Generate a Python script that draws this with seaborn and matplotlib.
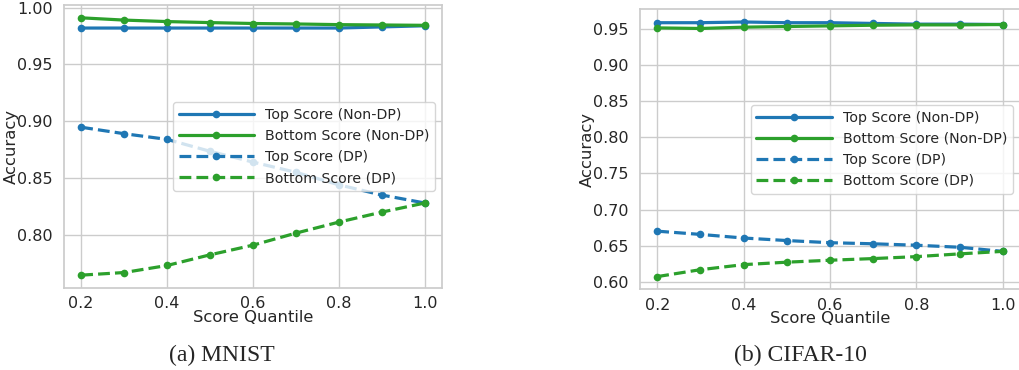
import matplotlib
matplotlib.use("Agg")
import matplotlib.pyplot as plt
import seaborn as sns

quantiles = [0.2, 0.3, 0.4, 0.5, 0.6, 0.7, 0.8, 0.9, 1.0]

# MNIST
mnist_top_nondp = [0.982, 0.982, 0.982, 0.982, 0.982, 0.982, 0.982, 0.983, 0.984]
mnist_bottom_nondp = [0.991, 0.989, 0.9877, 0.9868, 0.986, 0.9856, 0.985, 0.9847, 0.9844]
mnist_top_dp = [0.8947, 0.889, 0.884, 0.8735, 0.864, 0.855, 0.844, 0.835, 0.828]
mnist_bottom_dp = [0.7645, 0.7668, 0.773, 0.7824, 0.7909, 0.8015, 0.8112, 0.82, 0.828]

# CIFAR-10
cifar_top_nondp = [0.959, 0.959, 0.960, 0.959, 0.959, 0.958, 0.957, 0.957, 0.9565]
cifar_bottom_nondp = [0.9518, 0.951, 0.9528, 0.9537, 0.9546, 0.9555, 0.956, 0.956, 0.9565]
cifar_top_dp = [0.670, 0.6655, 0.6605, 0.657, 0.654, 0.6525, 0.6505, 0.6477, 0.642]
cifar_bottom_dp = [0.607, 0.6166, 0.6236, 0.627, 0.6297, 0.632, 0.6347, 0.6385, 0.642]

labels = ["Top Score (Non-DP)", "Bottom Score (Non-DP)", "Top Score (DP)", "Bottom Score (DP)"]
colors = ["#1f77b4", "#2ca02c", "#1f77b4", "#2ca02c"]
styles = ["-", "-", "--", "--"]

sns.set_theme(style="whitegrid")
plt.rcParams["font.family"] = ["DejaVu Sans"]

fig = plt.figure(figsize=(10.19, 3.7), dpi=100)
ax1 = fig.add_axes([0.0628, 0.2216, 0.371, 0.765])
ax2 = fig.add_axes([0.628, 0.218, 0.373, 0.757])


def draw(ax, series):
    for vals, lab, col, ls in zip(series, labels, colors, styles):
        sns.lineplot(x=quantiles, y=vals, ax=ax, label=lab, color=col,
                     linestyle=ls, marker="o", markersize=5.5, markeredgewidth=0,
                     linewidth=2.3)
    ax.set_xlabel("Score Quantile", fontsize=11.8, labelpad=-1)
    ax.set_ylabel("Accuracy", fontsize=11.8, labelpad=-1)
    ax.tick_params(axis="y", labelsize=11.5, pad=2)
    ax.tick_params(axis="x", labelsize=11.5, pad=0)
    ax.legend(loc="center right", fontsize=10.2, handlelength=5.3)


draw(ax1, [mnist_top_nondp, mnist_bottom_nondp, mnist_top_dp, mnist_bottom_dp])
draw(ax2, [cifar_top_nondp, cifar_bottom_nondp, cifar_top_dp, cifar_bottom_dp])

fig.text(222 / 1019, 0.04, "(a) MNIST", ha="center", va="center",
         family="Liberation Serif", fontsize=17)
fig.text(800 / 1019, 0.04, "(b) CIFAR-10", ha="center", va="center",
         family="Liberation Serif", fontsize=17)

fig.savefig("out.png", dpi=100)
